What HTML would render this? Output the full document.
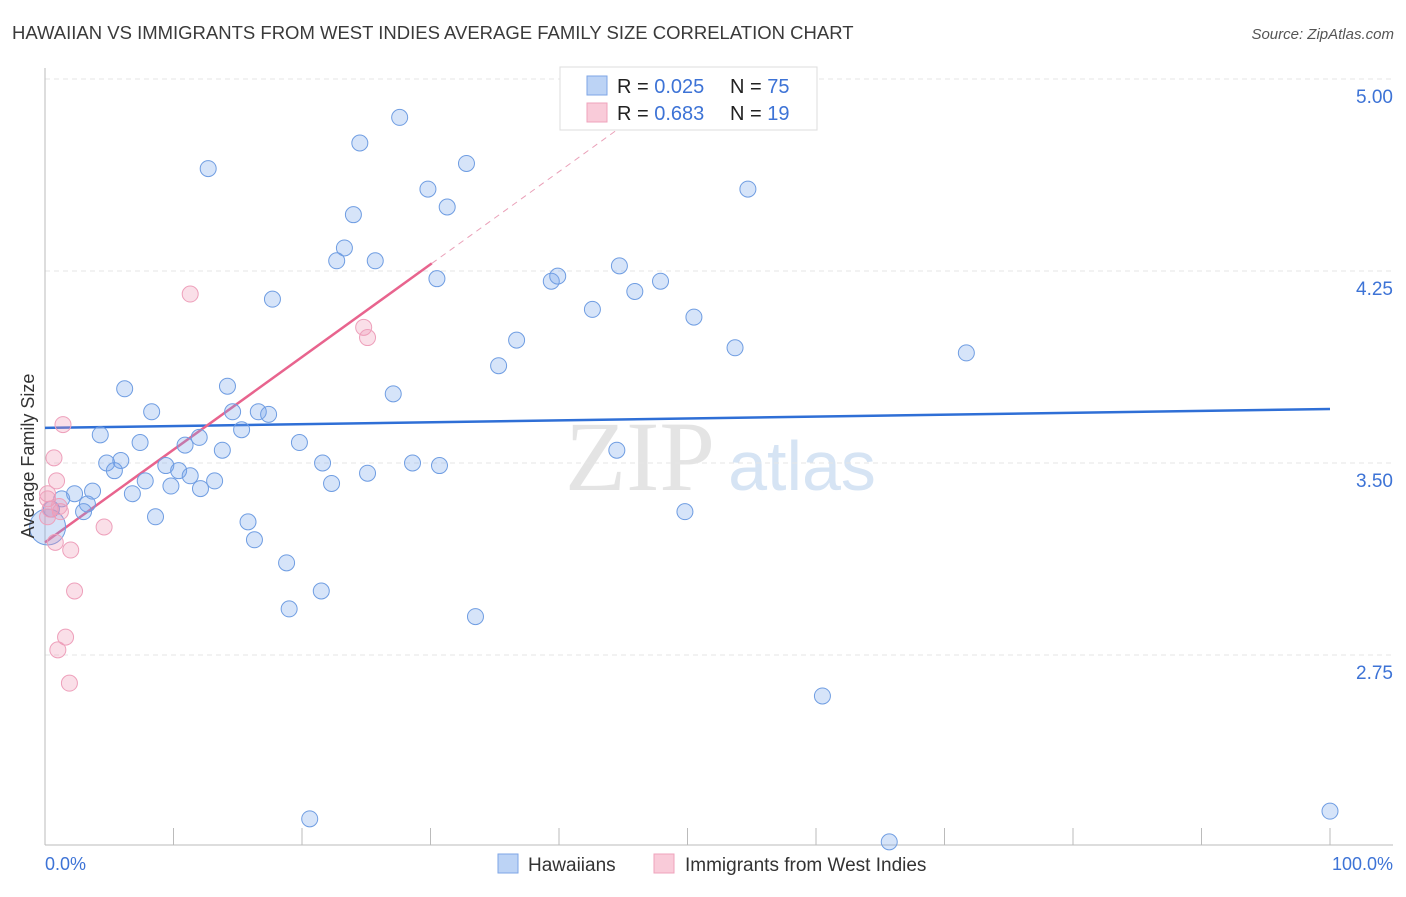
<!DOCTYPE html>
<html><head><meta charset="utf-8"><style>
body{margin:0;background:#fff;font-family:"Liberation Sans",sans-serif;}
</style></head><body>
<svg id="c" width="1406" height="892" xmlns="http://www.w3.org/2000/svg" font-family="Liberation Sans, sans-serif">
<text x="12" y="39" font-size="18.5" fill="#3a3a3a">HAWAIIAN VS IMMIGRANTS FROM WEST INDIES AVERAGE FAMILY SIZE CORRELATION CHART</text>
<text x="1394" y="39" font-size="15" fill="#555" font-style="italic" text-anchor="end">Source: ZipAtlas.com</text>
<text x="640" y="490" font-size="100" fill="#e4e4e4" font-family="Liberation Serif, serif" text-anchor="middle">ZIP</text>
<text x="802" y="490" font-size="70" fill="#d6e4f4" text-anchor="middle">atlas</text>
<g id="grid"></g><g id="axes"></g><g id="lines"></g><g id="pts"></g>
<text transform="translate(34,456) rotate(-90)" font-size="18" fill="#333" text-anchor="middle">Average Family Size</text>
<text x="45" y="870" font-size="18" fill="#3d73d6">0.0%</text>
<text x="1393" y="870" font-size="18" fill="#3d73d6" text-anchor="end">100.0%</text>
<g>
<rect x="560" y="67" width="257" height="63" fill="#fff" stroke="#ddd"/>
<rect x="587" y="76" width="20" height="19" fill="#bcd3f5" stroke="#7ea6e6"/>
<rect x="587" y="103" width="20" height="19" fill="#f9cbd9" stroke="#efa3bc"/>
<text x="617" y="93" font-size="20" fill="#222">R = <tspan fill="#3d73d6">0.025</tspan><tspan x="730">N = </tspan><tspan fill="#3d73d6">75</tspan></text>
<text x="617" y="120" font-size="20" fill="#222">R = <tspan fill="#3d73d6">0.683</tspan><tspan x="730">N = </tspan><tspan fill="#3d73d6"> 19</tspan></text>
</g>
<g>
<rect x="498" y="854" width="20" height="19" fill="#bcd3f5" stroke="#7ea6e6"/>
<text x="528" y="871" font-size="19" fill="#333">Hawaiians</text>
<rect x="654" y="854" width="20" height="19" fill="#f9cbd9" stroke="#efa3bc"/>
<text x="685" y="871" font-size="19" fill="#333">Immigrants from West Indies</text>
</g>
</svg>
<script>
const yTicks=[5.00,4.25,3.50,2.75];
const hawX=[27.6,24.5,12.7,32.8,29.8,54.7,31.3,24.0,23.3,22.7,25.7,30.5,39.4,39.9,44.7,47.9,45.9,17.7,42.6,50.5,36.7,53.7,71.7,35.3,6.2,14.2,27.1,8.3,14.6,16.6,17.4,4.3,7.4,10.9,12.0,15.3,19.8,13.8,44.5,4.8,5.9,9.4,10.4,5.4,11.3,21.6,28.6,30.7,25.1,7.8,9.8,12.1,13.2,22.3,3.7,2.3,6.8,1.3,3.3,0.5,3.0,8.6,15.8,49.8,16.3,18.8,21.5,19.0,33.5,60.5,20.6,65.7,100,0.2];
const hawY=[4.85,4.75,4.65,4.67,4.57,4.57,4.50,4.47,4.34,4.29,4.29,4.22,4.21,4.23,4.27,4.21,4.17,4.14,4.10,4.07,3.98,3.95,3.93,3.88,3.79,3.80,3.77,3.70,3.70,3.70,3.69,3.61,3.58,3.57,3.60,3.63,3.58,3.55,3.55,3.50,3.51,3.49,3.47,3.47,3.45,3.50,3.50,3.49,3.46,3.43,3.41,3.40,3.43,3.42,3.39,3.38,3.38,3.36,3.34,3.32,3.31,3.29,3.27,3.31,3.20,3.11,3.00,2.93,2.90,2.59,2.11,2.02,2.14,3.25];
const wiX=[11.3,24.8,25.1,1.4,0.7,0.9,0.2,0.4,1.2,0.2,4.6,0.8,2.0,2.3,1.6,1.0,1.9,0.2,1.1];
const wiY=[4.16,4.03,3.99,3.65,3.52,3.43,3.38,3.32,3.31,3.29,3.25,3.19,3.16,3.00,2.82,2.77,2.64,3.36,3.33];
const hawTrend=[3.637,3.711];
const wiTrend=[3.19,0.0362];
const NS='http://www.w3.org/2000/svg';
const X=p=>45+p*12.85, Y=v=>79+(5-v)*256;
function mk(t,a,parent){const e=document.createElementNS(NS,t);for(const k in a)e.setAttribute(k,a[k]);document.getElementById(parent).appendChild(e);return e;}
yTicks.forEach(v=>{
 const g=mk('line',{x1:45,x2:1393,y1:Y(v),y2:Y(v),stroke:'#e6e6e6','stroke-dasharray':'5,4'},'grid');
 
 
 const t=mk('text',{x:1393,y:Y(v)+24,'font-size':19,fill:'#3d73d6','text-anchor':'end'},'grid');
 t.textContent=v.toFixed(2);
 
 
});
const ax=mk('line',{x1:45,x2:45,y1:68,y2:845,stroke:'#bbb'},'axes');


const bx=mk('line',{x1:45,x2:1393,y1:845,y2:845,stroke:'#bbb'},'axes');


for(let i=0;i<=10;i++){const t=mk('line',{x1:X(i*10),x2:X(i*10),y1:828,y2:845,stroke:'#bbb'},'axes');
 
 }
const bl=mk('line',{x1:X(0),x2:X(100),y1:Y(hawTrend[0]),y2:Y(hawTrend[1]),stroke:'#2f6fd6','stroke-width':2.5},'lines');


const pf=p=>wiTrend[0]+wiTrend[1]*p;
const pl=mk('line',{x1:X(0),x2:X(30.1),y1:Y(pf(0)),y2:Y(pf(30.1)),stroke:'#e8648e','stroke-width':2.5},'lines');


const pd=mk('line',{x1:X(30.1),x2:X(45.5),y1:Y(pf(30.1)),y2:Y(pf(45.5)),stroke:'#eaa0b8','stroke-width':1,'stroke-dasharray':'6,5'},'lines');


hawX.forEach((p,i)=>{const big=i===hawX.length-1;
 const c=mk('circle',{cx:X(p),cy:Y(hawY[i]),r:big?18:8,fill:'rgba(120,165,235,0.3)',stroke:'#6f9de2','stroke-width':1},'pts');
 
 });
wiX.forEach((p,i)=>{
 const c=mk('circle',{cx:X(p),cy:Y(wiY[i]),r:8,fill:'rgba(240,150,180,0.3)',stroke:'#eea0bb','stroke-width':1},'pts');
 
 });
</script>
</body></html>
